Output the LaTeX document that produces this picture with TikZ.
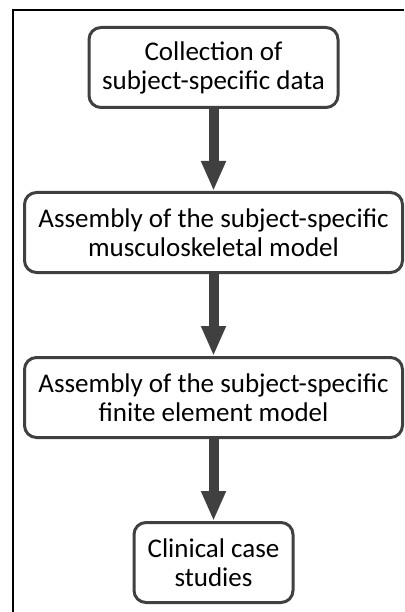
\documentclass[tikz,border=0pt]{standalone}
\usepackage{fontspec}
\setmainfont{Carlito}
\usetikzlibrary{positioning,arrows.meta}
\definecolor{boxgray}{HTML}{404040}
\begin{document}
\begin{tikzpicture}[
                x=1pt, y=1pt,
                node distance=82pt,
                every node/.style={draw=boxgray, line width=3pt, rounded corners=12pt,
                        align=center, minimum height=80pt, inner sep=0pt,
                        font=\fontsize{27}{29}\selectfont},
                flow/.style={draw=boxgray, line width=10pt,
                        -{Triangle[length=30pt,width=23pt]}}
            ]

            \useasboundingbox (0,0) rectangle (404,-612);
            \draw[line width=2pt] (13,-612) -- (13,-10) -- (404,-10);

            \node[minimum width=249pt] (collect) at (213.5,-67.5) {Collection of\\subject-specific data};
            \node[minimum width=378pt, below=of collect] (msmodel) {Assembly of the subject-specific\\musculoskeletal model};
            \node[minimum width=378pt, below=of msmodel] (femodel) {Assembly of the subject-specific\\finite element model};
            \node[minimum width=159pt, below=of femodel] (clinical) {Clinical case\\studies};

            \draw[flow] (collect) -- (msmodel);
            \draw[flow] (msmodel) -- (femodel);
            \draw[flow] (femodel) -- (clinical);

        \end{tikzpicture}
\end{document}
